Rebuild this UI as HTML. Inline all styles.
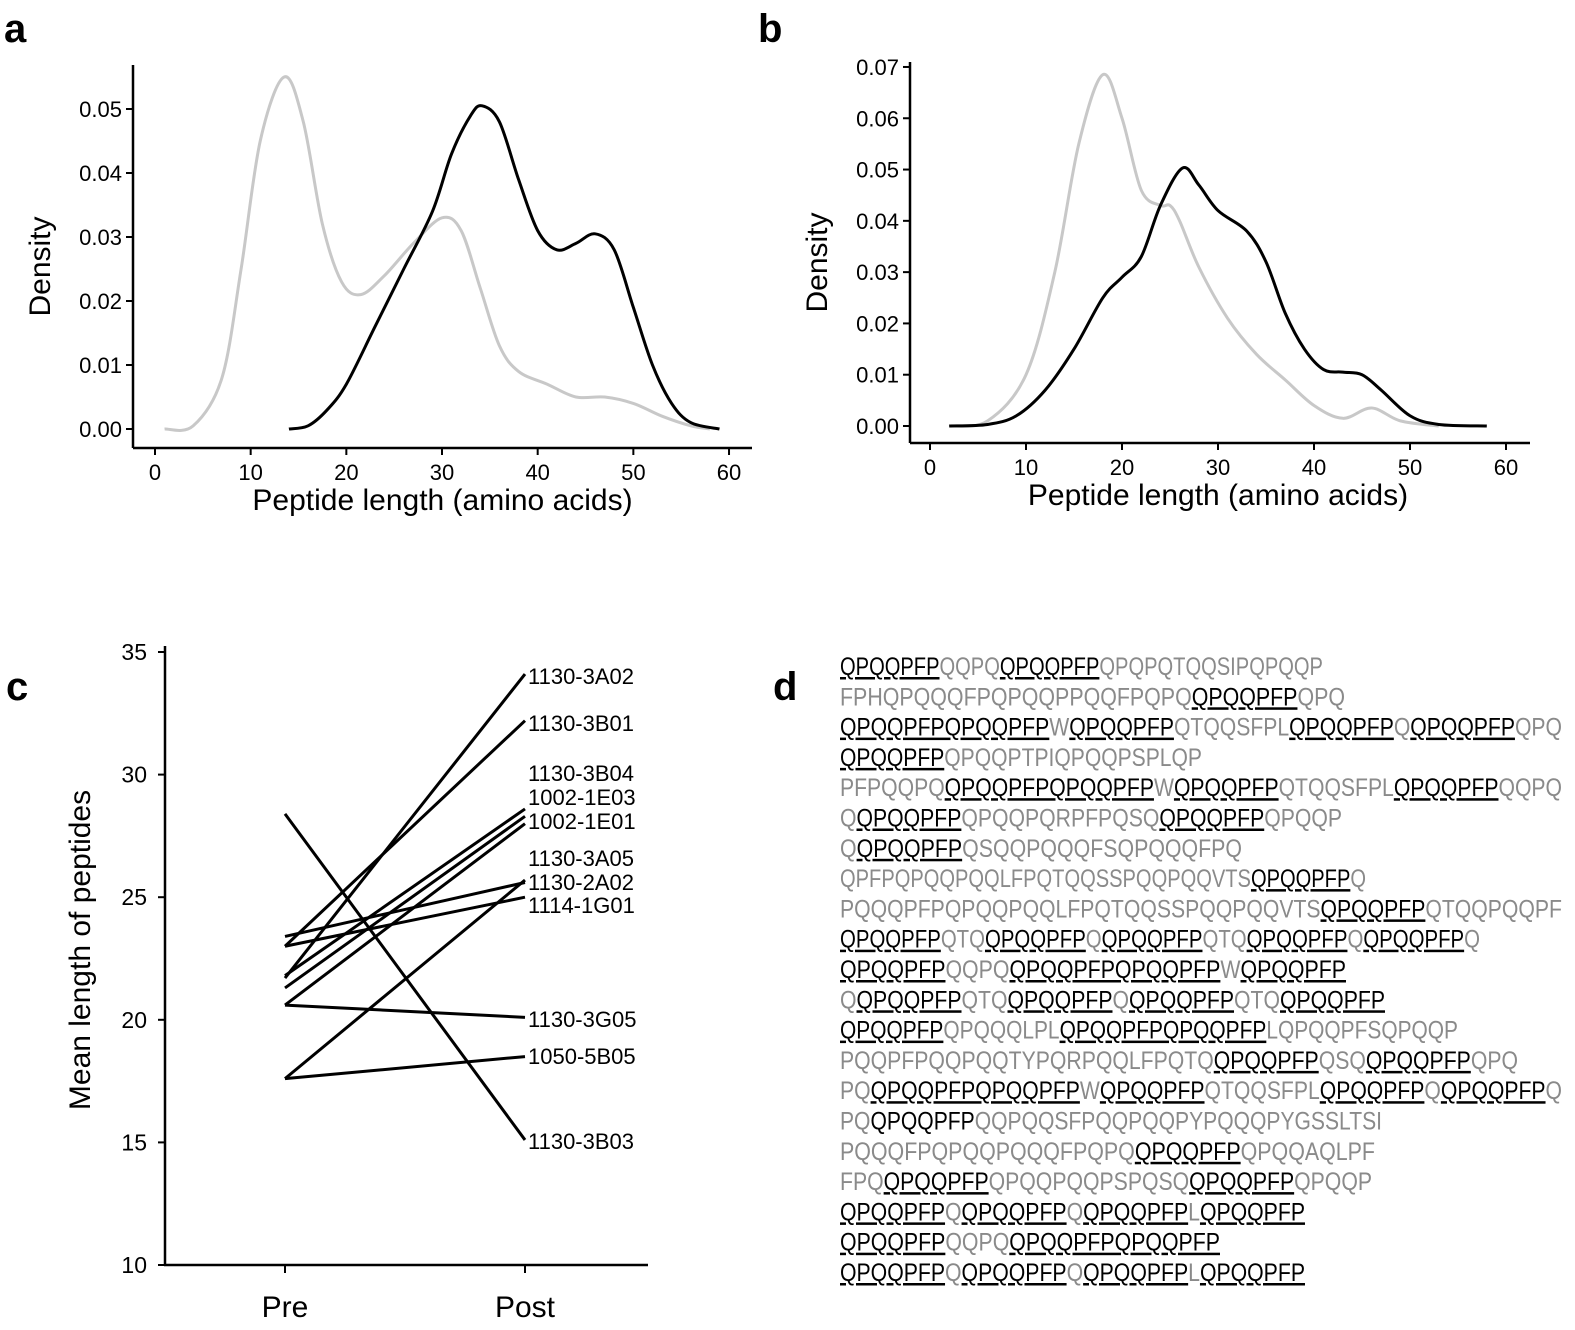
<!DOCTYPE html>
<html><head><meta charset="utf-8">
<style>
html,body{margin:0;padding:0;background:#fff;}
svg{display:block;font-family:"Liberation Sans",sans-serif;}
</style></head>
<body>
<svg id="s" width="1575" height="1330" viewBox="0 0 1575 1330" xmlns="http://www.w3.org/2000/svg">
<g font-weight="bold" font-size="40" fill="#000">
<text x="4" y="42">a</text><text x="758" y="42">b</text>
<text x="6" y="700">c</text><text x="773" y="700">d</text>
</g>
<g id="plots"></g>
<g id="dtext" font-size="25"></g>
</svg>
<script>
const NS="http://www.w3.org/2000/svg";
const P=document.getElementById('plots');
function el(t,a,txt){const e=document.createElementNS(NS,t);for(const k in a)e.setAttribute(k,a[k]);if(txt!==undefined)e.textContent=txt;P.appendChild(e);return e;}
function smooth(pts){let d="M"+pts[0][0]+","+pts[0][1];for(let i=0;i<pts.length-1;i++){const p0=pts[i-1]||pts[i],p1=pts[i],p2=pts[i+1],p3=pts[i+2]||p2;
const c1=[p1[0]+(p2[0]-p0[0])/6,p1[1]+(p2[1]-p0[1])/6],c2=[p2[0]-(p3[0]-p1[0])/6,p2[1]-(p3[1]-p1[1])/6];
d+=" C"+c1.join(",")+" "+c2.join(",")+" "+p2.join(",");}return d;}
function panel(o){
 const X=v=>o.x0+v*o.xs, Y=v=>o.y0-v*o.ys;
 el('line',{x1:o.ax,y1:o.ytop,x2:o.ax,y2:o.ay,stroke:'#000','stroke-width':2.5});
 el('line',{x1:o.ax,y1:o.ay,x2:o.xend,y2:o.ay,stroke:'#000','stroke-width':2.5});
 for(let v=0;v<=60;v+=10){el('line',{x1:X(v),y1:o.ay,x2:X(v),y2:o.ay+7,stroke:'#000','stroke-width':2});
  el('text',{x:X(v),y:o.ay+32,'font-size':22,'text-anchor':'middle'},String(v));}
 o.yt.forEach(v=>{el('line',{x1:o.ax-7,y1:Y(v),x2:o.ax,y2:Y(v),stroke:'#000','stroke-width':2});
  el('text',{x:o.ax-11,y:Y(v)+8,'font-size':22,'text-anchor':'end'},v.toFixed(2));});
 el('text',{x:(o.ax+o.xend)/2+(o.xlo||0),y:o.ay+62,'font-size':30,'text-anchor':'middle'},'Peptide length (amino acids)');
 el('text',{x:0,y:0,'font-size':30,'text-anchor':'middle',transform:`translate(${o.ax-83},${(o.ytop+o.ay)/2+10}) rotate(-90)`},'Density');
 el('path',{d:smooth(o.g.map(p=>[X(p[0]),Y(p[1])])),fill:'none',stroke:'#c8c8c8','stroke-width':3});
 el('path',{d:smooth(o.b.map(p=>[X(p[0]),Y(p[1])])),fill:'none',stroke:'#000','stroke-width':3});
}
panel({x0:155,xs:9.567,y0:429,ys:6400,ax:133,ay:448,ytop:65,xend:752,yt:[0,0.01,0.02,0.03,0.04,0.05],xlo:0,
g:[[1,0],[4,0.0005],[7,0.008],[9,0.025],[11,0.045],[13.5,0.055],[15.5,0.048],[17.5,0.032],[19.5,0.023],[21.5,0.021],[24,0.024],[27,0.029],[30,0.033],[32,0.031],[34,0.022],[36,0.013],[38,0.009],[41,0.007],[44,0.005],[47,0.005],[50,0.004],[53,0.002],[56,0.0005],[58,0]],
b:[[14,0],[16,0.0005],[18,0.003],[20,0.007],[23,0.016],[26,0.025],[29,0.034],[31,0.043],[33,0.049],[34.2,0.0505],[36,0.048],[38,0.039],[40,0.031],[42,0.028],[44,0.029],[46,0.0305],[48,0.028],[50,0.019],[52,0.010],[54,0.004],[56,0.001],[59,0]]});
panel({x0:930,xs:9.6,y0:426,ys:5129,ax:910,ay:443,ytop:62,xend:1530,yt:[0,0.01,0.02,0.03,0.04,0.05,0.06,0.07],xlo:-2,
g:[[2,0],[6,0.001],[10,0.010],[13,0.030],[15.5,0.055],[18,0.0685],[20,0.060],[22,0.046],[24,0.043],[25,0.043],[26,0.040],[28,0.031],[31,0.021],[34,0.014],[37,0.009],[40,0.004],[43,0.0015],[46,0.0035],[49,0.001],[53,0]],
b:[[2,0],[6,0.0003],[9,0.002],[12,0.007],[15,0.015],[18,0.025],[20,0.029],[22,0.033],[24,0.043],[26.3,0.0503],[28,0.047],[30,0.042],[33,0.038],[35,0.032],[37,0.022],[39,0.015],[41,0.011],[43,0.0105],[45,0.010],[47,0.007],[50,0.002],[53,0.0003],[58,0]]});
(function(){const Y=v=>1265-(v-10)*24.52;
 el('line',{x1:165,y1:646,x2:165,y2:1266,stroke:'#000','stroke-width':2.5});
 el('line',{x1:164,y1:1265,x2:648,y2:1265,stroke:'#000','stroke-width':2.5});
 [10,15,20,25,30,35].forEach(v=>{el('line',{x1:158,y1:Y(v),x2:165,y2:Y(v),stroke:'#000','stroke-width':2});
  el('text',{x:147,y:Y(v)+8,'font-size':23,'text-anchor':'end'},String(v));});
 [[285,'Pre'],[525,'Post']].forEach(p=>{el('line',{x1:p[0],y1:1265,x2:p[0],y2:1273,stroke:'#000','stroke-width':2});
  el('text',{x:p[0],y:1317,'font-size':30,'text-anchor':'middle'},p[1]);});
 el('text',{x:0,y:0,'font-size':30,'text-anchor':'middle',transform:'translate(90,950) rotate(-90)'},'Mean length of peptides');
 [[21.7,34.1],[23.0,32.2],[21.8,28.6],[21.3,28.3],[20.6,28.0],[17.6,25.7],[23.4,25.6],[23.0,25.0],[20.6,20.1],[17.6,18.5],[28.4,15.1]].forEach(l=>{
  el('line',{x1:285,y1:Y(l[0]),x2:525,y2:Y(l[1]),stroke:'#000','stroke-width':3});});
 [['1130-3A02',676],['1130-3B01',723],['1130-3B04',773],['1002-1E03',797],['1002-1E01',821],['1130-3A05',858],['1130-2A02',882],['1114-1G01',905],['1130-3G05',1019],['1050-5B05',1056],['1130-3B03',1141]].forEach(t=>{
  el('text',{x:528,y:t[1]+8,'font-size':22},t[0]);});
})();
const lines=[
["[QPQQPFP]QQPQ[QPQQPFP]QPQPQTQQSIPQPQQP",1323],
["FPHQPQQQFPQPQQPPQQFPQPQ[QPQQPFP]QPQ",1345],
["[QPQQPFPQPQQPFP]W[QPQQPFP]QTQQSFPL[QPQQPFP]Q[QPQQPFP]QPQ",1562],
["[QPQQPFP]QPQQPTPIQPQQPSPLQP",1202],
["PFPQQPQ[QPQQPFPQPQQPFP]W[QPQQPFP]QTQQSFPL[QPQQPFP]QQPQ",1562],
["Q[QPQQPFP]QPQQPQRPFPQSQ[QPQQPFP]QPQQP",1342],
["Q[QPQQPFP]QSQQPQQQFSQPQQQFPQ",1242],
["QPFPQPQQPQQLFPQTQQSSPQQPQQVTS[QPQQPFP]Q",1366],
["PQQQPFPQPQQPQQLFPQTQQSSPQQPQQVTS[QPQQPFP]QTQQPQQPF",1562],
["[QPQQPFP]QTQ[QPQQPFP]Q[QPQQPFP]QTQ[QPQQPFP]Q[QPQQPFP]Q",1480],
["[QPQQPFP]QQPQ[QPQQPFPQPQQPFP]W[QPQQPFP]",1346],
["Q[QPQQPFP]QTQ[QPQQPFP]Q[QPQQPFP]QTQ[QPQQPFP]",1385],
["[QPQQPFP]QPQQQLPL[QPQQPFPQPQQPFP]LQPQQPFSQPQQP",1458],
["PQQPFPQQPQQTYPQRPQQLFPQTQ[QPQQPFP]QSQ[QPQQPFP]QPQ",1518],
["PQ[QPQQPFPQPQQPFP]W[QPQQPFP]QTQQSFPL[QPQQPFP]Q[QPQQPFP]Q",1562],
["PQ{QPQQPFP}QQPQQSFPQQPQQPYPQQQPYGSSLTSI",1382],
["PQQQFPQPQQPQQQFPQPQ[QPQQPFP]QPQQAQLPF",1375],
["FPQ[QPQQPFP]QPQQPQQPSPQSQ[QPQQPFP]QPQQP",1372],
["[QPQQPFP]Q[QPQQPFP]Q[QPQQPFP]L[QPQQPFP]",1305],
["[QPQQPFP]QQPQ[QPQQPFPQPQQPFP]",1220],
["[QPQQPFP]Q[QPQQPFP]Q[QPQQPFP]L[QPQQPFP]",1305]];
const D=document.getElementById('dtext');
lines.forEach((l,i)=>{const y=675+i*30.3;const t=document.createElementNS(NS,'text');
 t.setAttribute('x',840);t.setAttribute('y',y);t.setAttribute('textLength',l[1]-840);t.setAttribute('lengthAdjust','spacingAndGlyphs');
 l[0].split(/(\[[A-Z]+\]|\{[A-Z]+\})/).forEach(seg=>{if(!seg)return;const s=document.createElementNS(NS,'tspan');
  if(seg[0]=='['){s.textContent=seg.slice(1,-1);s.setAttribute('fill','#000');s.setAttribute('text-decoration','underline');}
  else if(seg[0]=='{'){s.textContent=seg.slice(1,-1);s.setAttribute('fill','#000');}
  else{s.textContent=seg;s.setAttribute('fill','#8a8a8a');}
  t.appendChild(s);});
 D.appendChild(t);});
</script>
</body></html>
